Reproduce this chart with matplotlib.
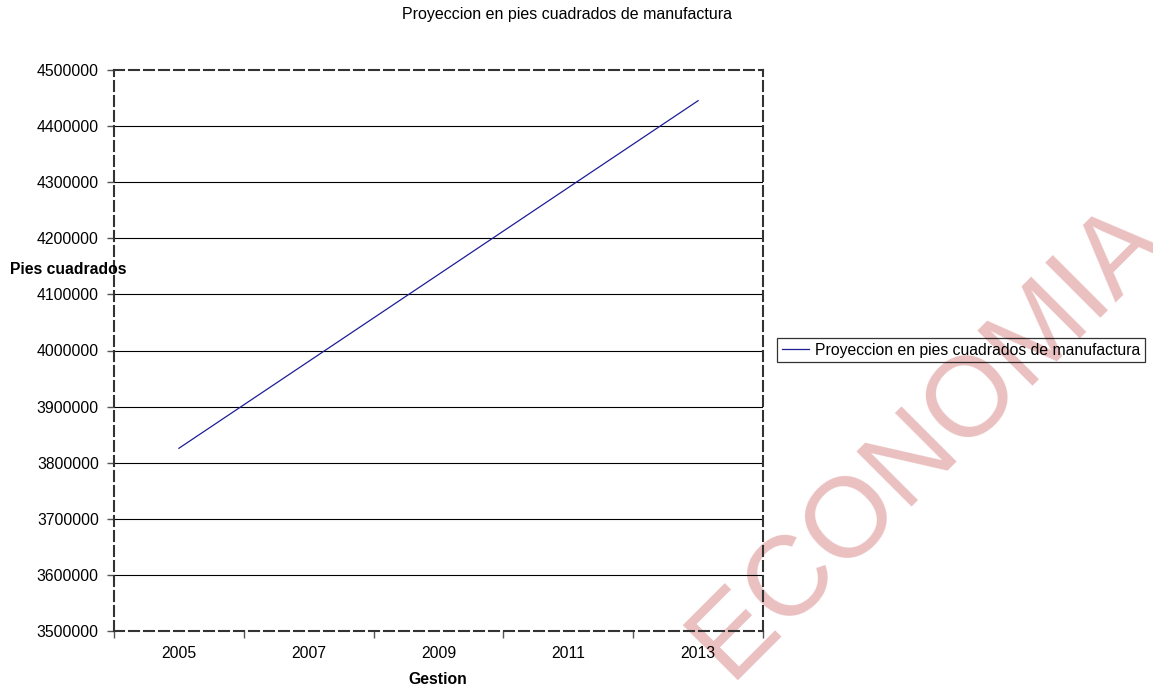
import matplotlib
matplotlib.use("Agg")
import matplotlib.pyplot as plt

plt.rcParams['font.family'] = ['Liberation Sans', 'DejaVu Sans']

years = [2005, 2006, 2007, 2008, 2009, 2010, 2011, 2012, 2013]
values = [3825700, 3903150, 3980600, 4058050, 4135500, 4212950, 4290400, 4367850, 4445300]
year_labels = ['2005', '2007', '2009', '2011', '2013']
label_years = [2005, 2007, 2009, 2011, 2013]
y_ticks = [3500000, 3600000, 3700000, 3800000, 3900000, 4000000,
           4100000, 4200000, 4300000, 4400000, 4500000]
title = 'Proyeccion en pies cuadrados de manufactura'
series_name = 'Proyeccion en pies cuadrados de manufactura'

W, H = 1153, 690
fig = plt.figure(figsize=(W / 100, H / 100), dpi=100)
fig.patch.set_facecolor('white')

# watermark
fig.text(928 / W, 1 - 440 / H, 'ECONOMIA', rotation=45, color='#EAC0C0',
         fontsize=82, ha='center', va='center', rotation_mode='anchor', zorder=-1)

ax = fig.add_axes([114 / W, 1 - 631 / H, (763 - 114) / W, (631 - 70) / H])
ax.set_facecolor('none')

ax.plot(years, values, color='#1E1E96', lw=0.9, label=series_name, zorder=3)

ax.set_xlim(2004, 2014)
ax.set_ylim(3500000, 4500000)
ax.set_yticks(y_ticks)
ax.set_yticklabels([str(v) for v in y_ticks])
ax.set_xticks([2004, 2006, 2008, 2010, 2012, 2014])
ax.set_xticklabels([])
ax.set_xticks(label_years, minor=True)
ax.set_xticklabels(year_labels, minor=True)
ax.tick_params(axis='x', which='minor', length=0, pad=11, labelsize=11.3)
ax.tick_params(axis='x', which='major', length=5, direction='out', color='#555555', width=1)
ax.tick_params(axis='y', length=5, direction='out', color='#555555', width=1, labelsize=11.3, pad=6)

for v in y_ticks[1:-1]:
    ax.axhline(v, color='black', lw=0.8, zorder=1)

for s in ax.spines.values():
    s.set_linestyle((0, (4.8, 2.4)))
    s.set_linewidth(1.5)
    s.set_color('#333333')

fig.text(567 / W, 1 - 15 / H, title, ha='center', va='center', fontsize=11.5)
fig.text(10 / W, 1 - 270 / H, 'Pies cuadrados', ha='left', va='center', fontsize=11.3, fontweight='bold')
fig.text(438 / W, 1 - 680 / H, 'Gestion', ha='center', va='center', fontsize=11.3, fontweight='bold')

leg = ax.legend(loc='center left', bbox_to_anchor=(777 / W, 1 - 350 / H),
                bbox_transform=fig.transFigure, frameon=True, fancybox=False,
                edgecolor='black', facecolor='none', fontsize=11.3, handlelength=1.72,
                handletextpad=0.38, borderpad=0.3, borderaxespad=0)
leg.get_frame().set_linewidth(0.9)

fig.savefig('out.png', dpi=100, facecolor='white')
